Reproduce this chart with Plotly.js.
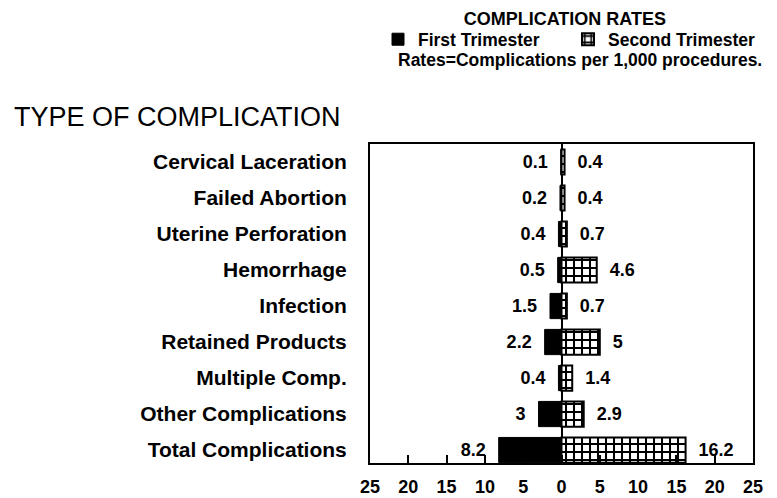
<!DOCTYPE html>
<html>
<head>
<meta charset="utf-8">
<script src="https://cdn.plot.ly/plotly-3.0.1.min.js"></script>
<style>
  body { margin: 0; background: #fff; }
  #chart { width: 777px; height: 498px; }
</style>
</head>
<body>
<div id="chart"></div>
<script>
// complication types, top to bottom
let categories = ["Cervical Laceration", "Failed Abortion", "Uterine Perforation", "Hemorrhage",
                  "Infection", "Retained Products", "Multiple Comp.", "Other Complications",
                  "Total Complications"];
// rates per 1,000 procedures
let first_tri = [0.1, 0.2, 0.4, 0.5, 1.5, 2.2, 0.4, 3, 8.2];
let second_tri = [0.4, 0.4, 0.7, 4.6, 0.7, 5, 1.4, 2.9, 16.2];
let tick_vals = [-25, -20, -15, -10, -5, 0, 5, 10, 15, 20, 25];
let tick_text = ["25", "20", "15", "10", "5", "0", "5", "10", "15", "20", "25"];

let font_name = "Liberation Sans, Arial, sans-serif";
let nb = "\u00a0";
let legend_font = {family: font_name, size: 17.5, weight: 'bold', color: '#000'};

// first trimester drawn to the left of zero
let trace1 = {
  type: 'bar',
  orientation: 'h',
  name: 'First Trimester',
  legend: 'legend',
  y: categories,
  x: first_tri.map(function(v){ return -v; }),
  text: first_tri.map(function(v){ return v + nb + nb; }),
  textposition: 'outside',
  constraintext: 'none',
  cliponaxis: false,
  textfont: {family: font_name, size: 18, weight: 'bold', color: '#000'},
  marker: {color: '#000', line: {color: '#000', width: 1}},
  hoverinfo: 'skip'
};

let trace2 = {
  type: 'bar',
  orientation: 'h',
  name: 'Second Trimester',
  legend: 'legend2',
  y: categories,
  x: second_tri,
  text: second_tri.map(function(v){ return nb + nb + v; }),
  textposition: 'outside',
  constraintext: 'none',
  cliponaxis: false,
  textfont: {family: font_name, size: 18, weight: 'bold', color: '#000'},
  marker: {
    color: '#fff',
    line: {color: '#000', width: 2},
    pattern: {shape: '+', fgcolor: '#000', bgcolor: '#fff', size: 8, solidity: 0.45}
  },
  hoverinfo: 'skip'
};

let layout = {
  width: 777,
  height: 498,
  margin: {l: 370, r: 24, t: 144, b: 35},
  paper_bgcolor: '#fff',
  plot_bgcolor: '#fff',
  barmode: 'overlay',
  bargap: 0.3,
  showlegend: true,
  font: {family: font_name, color: '#000'},
  title: {
    text: 'COMPLICATION RATES',
    font: {family: font_name, size: 18, weight: 'bold', color: '#000'},
    x: 0.727, xanchor: 'center',
    y: 0.962, yanchor: 'middle'
  },
  // one legend per trace so the two entries sit on one row
  legend: {
    orientation: 'h',
    xref: 'container', yref: 'container',
    x: 0.4865, xanchor: 'left',
    y: 0.921, yanchor: 'middle',
    font: legend_font
  },
  legend2: {
    orientation: 'h',
    xref: 'container', yref: 'container',
    x: 0.731, xanchor: 'left',
    y: 0.921, yanchor: 'middle',
    font: legend_font
  },
  xaxis: {
    range: [-25, 25],
    tickvals: tick_vals,
    ticktext: tick_text,
    ticks: 'inside',
    ticklen: 8,
    tickwidth: 2,
    tickcolor: '#000',
    ticklabelstandoff: 6,
    tickfont: {family: font_name, size: 18, weight: 'bold', color: '#000'},
    showgrid: false,
    zeroline: true,
    zerolinecolor: '#000',
    zerolinewidth: 2,
    showline: true,
    linecolor: '#000',
    linewidth: 2,
    mirror: true,
    fixedrange: true
  },
  yaxis: {
    type: 'category',
    range: [8.36, -0.5],
    ticks: '',
    ticklabelstandoff: 17,
    tickfont: {family: font_name, size: 21, weight: 'bold', color: '#000'},
    showgrid: false,
    showline: true,
    linecolor: '#000',
    linewidth: 2,
    mirror: true,
    fixedrange: true
  },
  annotations: [
    {
      text: 'Rates=Complications per 1,000 procedures.',
      xref: 'paper', yref: 'paper',
      x: 1.03, xanchor: 'right',
      y: 1.263, yanchor: 'middle',
      showarrow: false,
      font: {family: font_name, size: 17.5, weight: 'bold', color: '#000'}
    },
    {
      text: 'TYPE OF COMPLICATION',
      xref: 'paper', yref: 'paper',
      x: -0.935, xanchor: 'left',
      y: 1.085, yanchor: 'middle',
      showarrow: false,
      font: {family: font_name, size: 27, color: '#000'}
    }
  ]
};

Plotly.newPlot('chart', [trace1, trace2], layout, {staticPlot: true, displayModeBar: false});
</script>
</body>
</html>
